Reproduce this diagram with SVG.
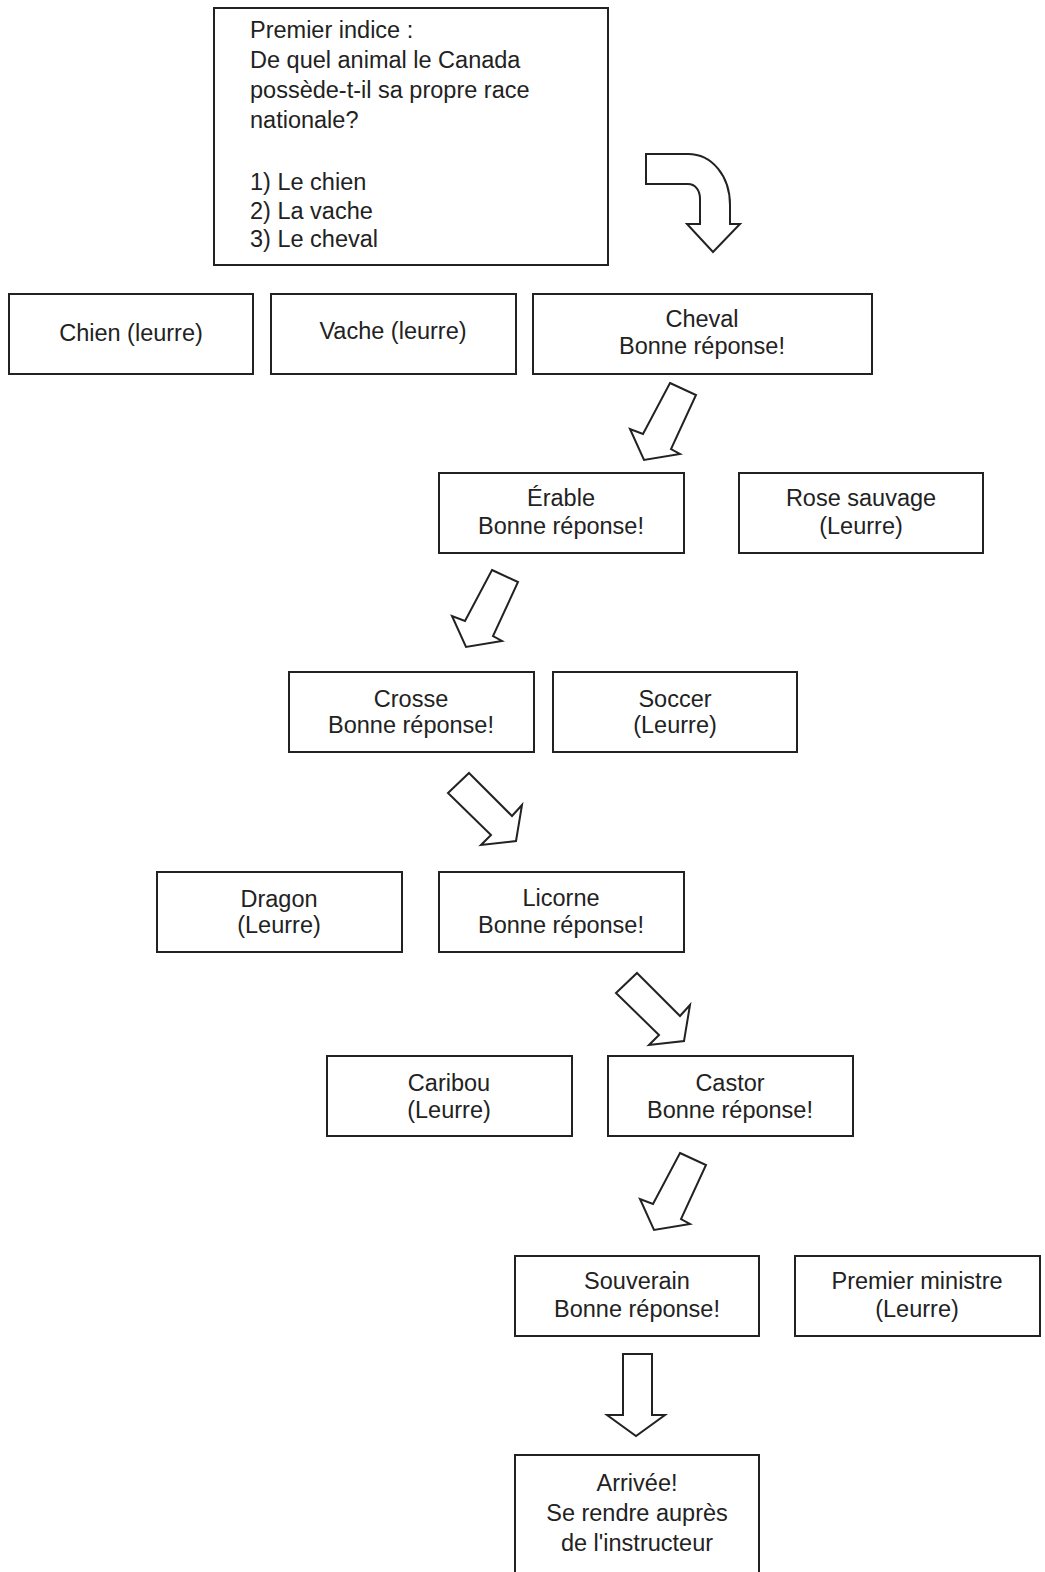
<svg xmlns="http://www.w3.org/2000/svg" width="1045" height="1572" viewBox="0 0 1045 1572">
<style>
.box{fill:#fff;stroke:#222;stroke-width:2}
.arr{fill:#fff;stroke:#222;stroke-width:2;stroke-linejoin:miter}
text{font-family:"Liberation Sans",Arial,sans-serif;font-size:23.5px;fill:#222}
.c{text-anchor:middle}
</style>
<defs>
<polygon id="dl" points="0,0 26,12 1,66 10,71 -26,77 -40,46 -27,51"/>
<polygon id="dr" points="0,0 43,43 53,32 47,68 12,72 22,62 -21,20"/>
</defs>
<rect width="1045" height="1572" fill="#fff"/>
<g id="connectors">
<path class="arr" d="M646,154 H688 C712,154 730,176 730,205 V224 H740 L713,252 L687,224 H700 V199 C700,190 695,184 688,184 H646 Z"/>
<use href="#dl" class="arr" x="670" y="383"/>
<use href="#dl" class="arr" x="492" y="570"/>
<use href="#dr" class="arr" x="469" y="773"/>
<use href="#dr" class="arr" x="637" y="973"/>
<use href="#dl" class="arr" x="680" y="1153"/>
<polygon class="arr" points="623,1354 652,1354 652,1415 665,1415 636,1436 607,1415 623,1415"/>
</g>
<g id="q1">
<rect class="box" x="214" y="8" width="394" height="257"/>
<text x="250" y="38">Premier indice :</text>
<text x="250" y="68">De quel animal le Canada</text>
<text x="250" y="98">possède-t-il sa propre race</text>
<text x="250" y="128">nationale?</text>
<text x="250" y="190">1) Le chien</text>
<text x="250" y="219">2) La vache</text>
<text x="250" y="247">3) Le cheval</text>
</g>
<g id="chien"><rect class="box" x="9" y="294" width="244" height="80"/><text class="c" x="131" y="341">Chien (leurre)</text></g>
<g id="vache"><rect class="box" x="271" y="294" width="245" height="80"/><text class="c" x="393" y="339">Vache (leurre)</text></g>
<g id="cheval"><rect class="box" x="533" y="294" width="339" height="80"/><text class="c" x="702" y="327">Cheval</text><text class="c" x="702" y="354">Bonne réponse!</text></g>
<g id="erable"><rect class="box" x="439" y="473" width="245" height="80"/><text class="c" x="561" y="506">Érable</text><text class="c" x="561" y="534">Bonne réponse!</text></g>
<g id="rose"><rect class="box" x="739" y="473" width="244" height="80"/><text class="c" x="861" y="506">Rose sauvage</text><text class="c" x="861" y="534">(Leurre)</text></g>
<g id="crosse"><rect class="box" x="289" y="672" width="245" height="80"/><text class="c" x="411" y="707">Crosse</text><text class="c" x="411" y="733">Bonne réponse!</text></g>
<g id="soccer"><rect class="box" x="553" y="672" width="244" height="80"/><text class="c" x="675" y="707">Soccer</text><text class="c" x="675" y="733">(Leurre)</text></g>
<g id="dragon"><rect class="box" x="157" y="872" width="245" height="80"/><text class="c" x="279" y="907">Dragon</text><text class="c" x="279" y="933">(Leurre)</text></g>
<g id="licorne"><rect class="box" x="439" y="872" width="245" height="80"/><text class="c" x="561" y="906">Licorne</text><text class="c" x="561" y="933">Bonne réponse!</text></g>
<g id="caribou"><rect class="box" x="327" y="1056" width="245" height="80"/><text class="c" x="449" y="1091">Caribou</text><text class="c" x="449" y="1118">(Leurre)</text></g>
<g id="castor"><rect class="box" x="608" y="1056" width="245" height="80"/><text class="c" x="730" y="1091">Castor</text><text class="c" x="730" y="1118">Bonne réponse!</text></g>
<g id="souverain"><rect class="box" x="515" y="1256" width="244" height="80"/><text class="c" x="637" y="1289">Souverain</text><text class="c" x="637" y="1317">Bonne réponse!</text></g>
<g id="pm"><rect class="box" x="795" y="1256" width="245" height="80"/><text class="c" x="917" y="1289">Premier ministre</text><text class="c" x="917" y="1317">(Leurre)</text></g>
<g id="arrivee"><rect class="box" x="515" y="1455" width="244" height="130"/><text class="c" x="637" y="1491">Arrivée!</text><text class="c" x="637" y="1521">Se rendre auprès</text><text class="c" x="637" y="1551">de l'instructeur</text></g>
</svg>
